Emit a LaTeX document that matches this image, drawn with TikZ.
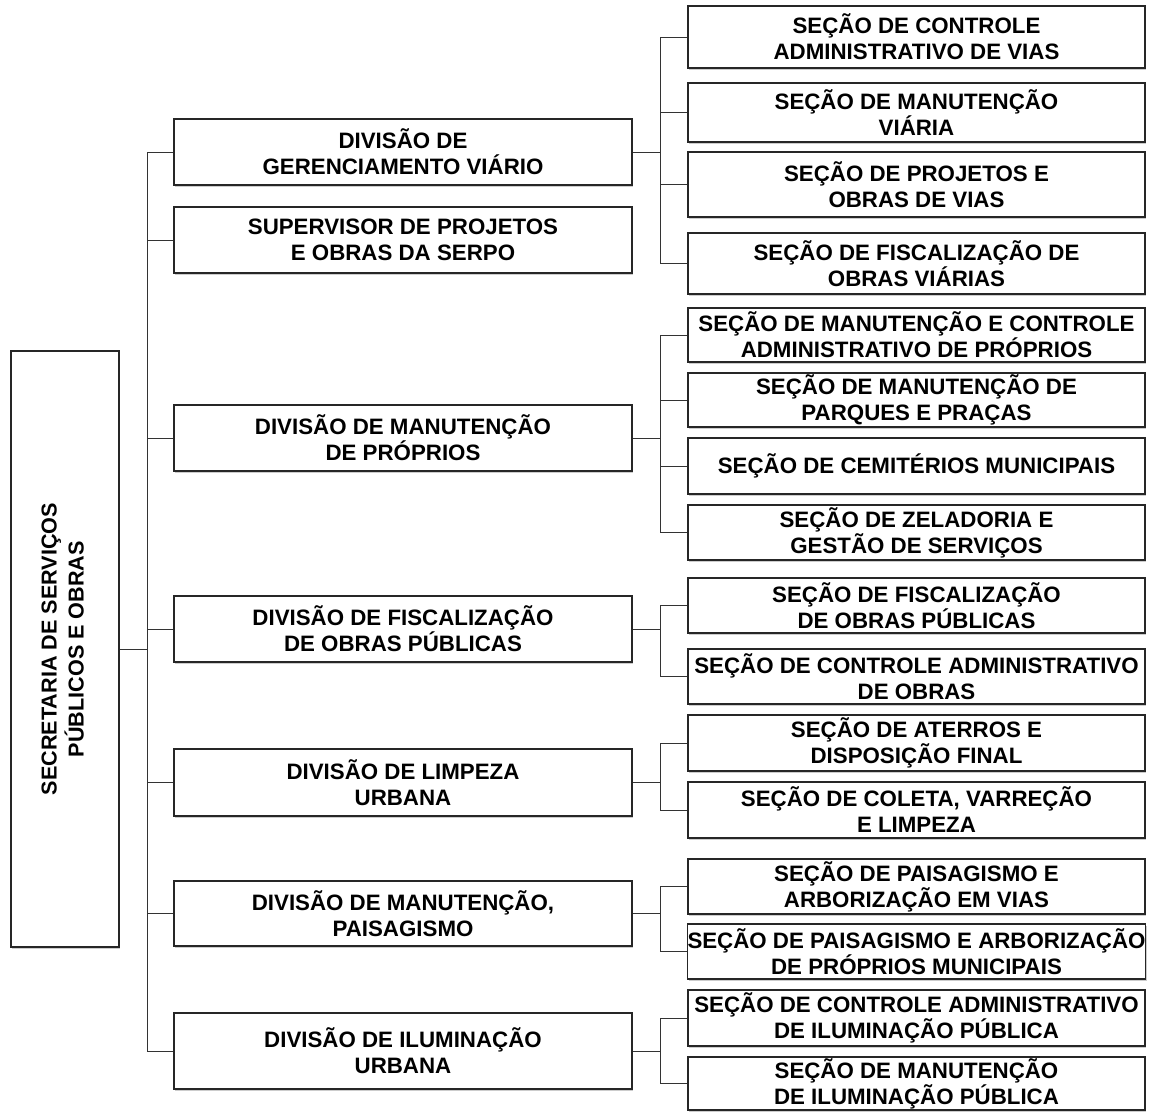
\documentclass[tikz,border=0pt]{standalone}
\usepackage{fontspec}
\usepackage{graphicx}
\setmainfont{Liberation Sans}
\usetikzlibrary{shadows}
\begin{document}
\begin{tikzpicture}[x=1pt,y=-1pt,
  box/.style={draw=black!85, line width=1.3pt, fill=white, rectangle, inner sep=0pt,
    align=center, font=\fontsize{22.3}{26}\selectfont\bfseries,
    drop shadow={shadow xshift=1.2pt, shadow yshift=-1.8pt, fill=black, opacity=0.2}},
  divbox/.style={box, minimum width=458},
  secbox/.style={box, minimum width=457},
  link/.style={draw=black!80, line width=1pt}]
\useasboundingbox (0,0) rectangle (1152,1112);

% secretariat
\node[box, font=\fontsize{21.6}{26}\selectfont\bfseries, minimum width=108, minimum height=596] (root) at (65,649)
  {\rotatebox{90}{\begin{tabular}{@{}c@{}}SECRETARIA DE SERVIÇOS\\PÚBLICOS E OBRAS\end{tabular}}};

% divisions
\node[divbox, minimum height=66] (d1) at (403,152)   {DIVISÃO DE\\GERENCIAMENTO VIÁRIO};
\node[divbox, minimum height=66] (d2) at (403,240)   {SUPERVISOR DE PROJETOS\\E OBRAS DA SERPO};
\node[divbox, minimum height=66] (d3) at (403,438)   {DIVISÃO DE MANUTENÇÃO\\DE PRÓPRIOS};
\node[divbox, minimum height=66] (d4) at (403,629)   {DIVISÃO DE FISCALIZAÇÃO\\DE OBRAS PÚBLICAS};
\node[divbox, minimum height=67] (d5) at (403,782.5) {DIVISÃO DE LIMPEZA\\URBANA};
\node[divbox, minimum height=65] (d6) at (403,913.5) {DIVISÃO DE MANUTENÇÃO,\\PAISAGISMO};
\node[divbox, minimum height=76] (d7) at (403,1051)  {DIVISÃO DE ILUMINAÇÃO\\URBANA};

% sections
\node[secbox, minimum height=62] (s1)  at (916.5,37)     {SEÇÃO DE CONTROLE\\ADMINISTRATIVO DE VIAS};
\node[secbox, minimum height=59] (s2)  at (916.5,112.5)  {SEÇÃO DE MANUTENÇÃO\\VIÁRIA};
\node[secbox, minimum height=65] (s3)  at (916.5,184.5)  {SEÇÃO DE PROJETOS E\\OBRAS DE VIAS};
\node[secbox, minimum height=61] (s4)  at (916.5,263.5)  {SEÇÃO DE FISCALIZAÇÃO DE\\OBRAS VIÁRIAS};
\node[secbox, minimum height=54] (s5)  at (916.5,335)    {SEÇÃO DE MANUTENÇÃO E CONTROLE\\ADMINISTRATIVO DE PRÓPRIOS};
\node[secbox, minimum height=54] (s6)  at (916.5,400)    {SEÇÃO DE MANUTENÇÃO DE\\PARQUES E PRAÇAS};
\node[secbox, minimum height=56] (s7)  at (916.5,466)    {SEÇÃO DE CEMITÉRIOS MUNICIPAIS};
\node[secbox, minimum height=55] (s8)  at (916.5,532.5)  {SEÇÃO DE ZELADORIA E\\GESTÃO DE SERVIÇOS};
\node[secbox, minimum height=55] (s9)  at (916.5,605.5)  {SEÇÃO DE FISCALIZAÇÃO\\DE OBRAS PÚBLICAS};
\node[secbox, minimum height=55] (s10) at (916.5,676.5)  {SEÇÃO DE CONTROLE ADMINISTRATIVO\\DE OBRAS};
\node[secbox, minimum height=56] (s11) at (916.5,743)    {SEÇÃO DE ATERROS E\\DISPOSIÇÃO FINAL};
\node[secbox, minimum height=56] (s12) at (916.5,810)    {SEÇÃO DE COLETA, VARREÇÃO\\E LIMPEZA};
\node[secbox, minimum height=55] (s13) at (916.5,886.5)  {SEÇÃO DE PAISAGISMO E\\ARBORIZAÇÃO EM VIAS};
\node[secbox, minimum height=55] (s14) at (916.5,951.5)  {SEÇÃO DE PAISAGISMO E ARBORIZAÇÃO\\DE PRÓPRIOS MUNICIPAIS};
\node[secbox, minimum height=56] (s15) at (916.5,1018)   {SEÇÃO DE CONTROLE ADMINISTRATIVO\\DE ILUMINAÇÃO PÚBLICA};
\node[secbox, minimum height=53] (s16) at (916.5,1083.5) {SEÇÃO DE MANUTENÇÃO\\DE ILUMINAÇÃO PÚBLICA};

% trunk and rails
\coordinate (trunk) at (147,0);
\coordinate (rail) at (660,0);

\draw[link] (root.east) -- (root.east -| trunk);
\draw[link] (d1.west -| trunk) -- (d7.west -| trunk);
\foreach \i in {1,...,7} \draw[link] (d\i.west) -- (d\i.west -| trunk);

\foreach \d/\a/\b in {d1/s1/s4, d3/s5/s8, d4/s9/s10, d5/s11/s12, d6/s13/s14, d7/s15/s16} {
  \draw[link] (\d.east) -- (\d.east -| rail);
  \draw[link] (\a.west -| rail) -- (\b.west -| rail);
}
\foreach \i in {1,...,16} \draw[link] (s\i.west) -- (s\i.west -| rail);
\end{tikzpicture}
\end{document}
